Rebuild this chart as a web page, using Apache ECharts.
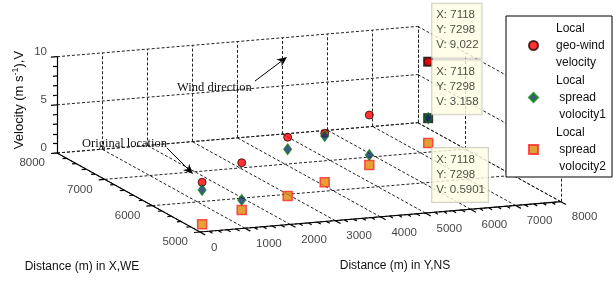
<!DOCTYPE html>
<html>
<head>
<meta charset="utf-8">
<script src="https://cdn.jsdelivr.net/npm/echarts@6/dist/echarts.min.js"></script>
<style>
html, body { margin: 0; padding: 0; background: #fff; }
#chart { width: 614px; height: 282px; }
</style>
</head>
<body>
<div id="chart"></div>
<script>
// track positions (m) and the three velocities (m/s) at each position
const distX = [5060, 5356, 5722, 6102, 6454, 7118];
const distY = [110, 1301, 2707, 3930, 5291, 7298];
const geoWind = [4.96, 5.71, 6.80, 5.69, 6.09, 9.022];
const spread1 = [4.16, 1.84, 5.55, 5.41, 1.94, 3.158];
const spread2 = [0.6, 0.8, 0.7, 0.6, 0.9, 0.5901];
const seriesNames = ['Local\ngeo-wind\nvelocity', 'Local\n spread\n volocity1', 'Local\n spread\n volocity2'];

const xTicks = [5000, 6000, 7000, 8000];
const yTicks = [0, 1000, 2000, 3000, 4000, 5000, 6000, 7000, 8000];
const vTicks = [0, 5, 10];
const tipIndex = 5; // point carrying the data tips

const FONT = 'Liberation Sans';
const SERIF = 'Liberation Serif';

// 3-D view (MATLAB style): screen place of the floor corner X=5000,Y=0 and the step per unit
const view = {
    origin: [200, 232],
    perX: [-47.67 / 1000, -26.33 / 1000],
    perY: [45.1 / 1000, -3.79 / 1000],
    perV: [0, -9.63],
    x0: 5000,
    y0: 0
};
const xMin = 5000, xMax = 8000, yMin = 0, yMax = 8000, vMin = 0, vMax = 10;

function proj(x, y, v) {
    const dx = x - view.x0, dy = y - view.y0;
    return [
        view.origin[0] + dx * view.perX[0] + dy * view.perY[0] + v * view.perV[0],
        view.origin[1] + dx * view.perX[1] + dy * view.perY[1] + v * view.perV[1]
    ];
}
function unit(vec) {
    const l = Math.hypot(vec[0], vec[1]);
    return [vec[0] / l, vec[1] / l];
}
function seg(a, b) {
    return { coords: [a, b] };
}

// dashed grid on floor and the two back walls
const gridSegs = [];
yTicks.forEach(y => {
    gridSegs.push(seg(proj(xMin, y, 0), proj(xMax, y, 0)));
    gridSegs.push(seg(proj(xMax, y, vMin), proj(xMax, y, vMax)));
});
xTicks.forEach(x => {
    gridSegs.push(seg(proj(x, yMin, 0), proj(x, yMax, 0)));
    gridSegs.push(seg(proj(x, yMax, vMin), proj(x, yMax, vMax)));
});
vTicks.forEach(v => {
    gridSegs.push(seg(proj(xMax, yMin, v), proj(xMax, yMax, v)));
    gridSegs.push(seg(proj(xMax, yMax, v), proj(xMin, yMax, v)));
});

// solid axes
const axisSegs = [
    seg(proj(xMin, yMin, 0), proj(xMax, yMin, 0)),
    seg(proj(xMin, yMin, 0), proj(xMin, yMax, 0)),
    seg(proj(xMax, yMin, vMin), proj(xMax, yMin, vMax))
];

// tick marks
const dirY = unit(view.perY), dirX = unit(view.perX);
const tickSegs = [];
function addTick(p, dir, len) {
    tickSegs.push(seg(p, [p[0] + dir[0] * len, p[1] + dir[1] * len]));
}
for (let x = xMin; x <= xMax; x += 200) {
    addTick(proj(x, yMin, 0), [-dirY[0], -dirY[1]], x % 1000 === 0 ? 6 : 4);
}
for (let y = yMin; y <= yMax; y += 200) {
    addTick(proj(xMin, y, 0), [-dirX[0], -dirX[1]], y % 1000 === 0 ? 6 : 4);
}
for (let v = vMin; v <= vMax; v += 1) {
    addTick(proj(xMax, yMin, v), [-dirY[0], -dirY[1]], v % 5 === 0 ? 6 : 4);
}

function pts(vals) {
    return vals.map((v, i) => proj(distX[i], distY[i], v));
}

function labelSeries(data, pos, align) {
    return {
        type: 'scatter',
        symbolSize: 0,
        silent: true,
        z: 3,
        itemStyle: { color: 'rgba(0,0,0,0)' },
        data: data,
        label: {
            show: true,
            position: pos,
            align: align,
            verticalAlign: 'middle',
            formatter: '{b}',
            fontFamily: FONT,
            fontSize: 11.5,
            color: '#111'
        }
    };
}

const tipText = (v) => 'X: ' + distX[tipIndex] + '\nY: ' + distY[tipIndex] + '\nV: ' + v;
const tipLabel = {
    show: true,
    align: 'left',
    fontFamily: FONT,
    fontSize: 11.5,
    lineHeight: 15,
    color: '#1a1a1a',
    backgroundColor: '#ffffe3',
    borderColor: '#c4c4bc',
    borderWidth: 1,
    padding: [4, 3, 5, 4]
};

function arrow(x1, y1, x2, y2) {
    const d = unit([x2 - x1, y2 - y1]);
    const n = [-d[1], d[0]];
    const L = 10, W = 4.5;
    const bx = x2 - d[0] * L, by = y2 - d[1] * L;
    const nx = x2 - d[0] * L * 0.7, ny = y2 - d[1] * L * 0.7;
    return [
        { type: 'line', shape: { x1: x1, y1: y1, x2: nx, y2: ny }, style: { stroke: '#000', lineWidth: 1 } },
        {
            type: 'polygon',
            shape: { points: [[x2, y2], [bx + n[0] * W, by + n[1] * W], [nx, ny], [bx - n[0] * W, by - n[1] * W]] },
            style: { fill: '#000' }
        }
    ];
}

const chart = echarts.init(document.getElementById('chart'));
const option = {
    animation: false,
    grid: { left: 0, right: 0, top: 0, bottom: 0 },
    xAxis: { type: 'value', min: 0, max: 614, show: false },
    yAxis: { type: 'value', min: 0, max: 282, inverse: true, show: false },
    legend: {
        data: [
            { name: seriesNames[0], icon: 'circle' },
            { name: seriesNames[1], icon: 'diamond' },
            { name: seriesNames[2], icon: 'rect' }
        ],
        orient: 'vertical',
        left: 506,
        top: 16,
        itemWidth: 9,
        itemHeight: 9,
        itemGap: 1,
        padding: [4, 6, 2, 22],
        borderColor: '#000',
        borderWidth: 1,
        borderRadius: 0,
        backgroundColor: '#fff',
        selectedMode: false,
        textStyle: {
            fontFamily: FONT, fontSize: 12, lineHeight: 17, color: '#111',
            align: 'left', padding: [0, 0, 0, 13]
        }
    },
    series: [
        {
            type: 'lines', coordinateSystem: 'cartesian2d', silent: true, z: 0,
            lineStyle: { color: '#222', width: 1, type: [3, 2], opacity: 1 },
            data: gridSegs
        },
        {
            type: 'lines', coordinateSystem: 'cartesian2d', silent: true, z: 1,
            lineStyle: { color: '#000', width: 1.2, opacity: 1 },
            data: axisSegs.concat(tickSegs)
        },
        labelSeries(xTicks.map(x => ({ name: String(x), value: proj(x, yMin, 0) })), [-12, 10], 'right'),
        labelSeries(yTicks.map(y => ({ name: String(y), value: proj(xMin, y, 0) })), [11, 15.5], 'left'),
        labelSeries(vTicks.map(v => ({ name: String(v), value: proj(xMax, yMin, v) })), [-10, -5], 'right'),
        {
            // data-tip cursor squares
            type: 'scatter', silent: true, z: 1.5,
            symbol: 'rect', symbolSize: 10,
            itemStyle: { color: '#000' },
            data: [proj(distX[tipIndex], distY[tipIndex], geoWind[tipIndex]),
                   proj(distX[tipIndex], distY[tipIndex], spread1[tipIndex])]
        },
        {
            name: seriesNames[0], type: 'scatter', z: 2,
            symbol: 'circle', symbolSize: 8,
            itemStyle: { color: '#ff0000', borderColor: '#300000', borderWidth: 1 },
            data: pts(geoWind)
        },
        {
            name: seriesNames[1], type: 'scatter', z: 2,
            symbol: 'diamond', symbolSize: [8, 11],
            itemStyle: { color: '#12306a', borderColor: '#0a8a0a', borderWidth: 1 },
            data: pts(spread1)
        },
        {
            name: seriesNames[2], type: 'scatter', z: 2,
            symbol: 'rect', symbolSize: 9,
            itemStyle: { color: '#dc8a06', borderColor: '#ff2828', borderWidth: 1.5 },
            data: pts(spread2)
        },
        {
            // data tips
            type: 'scatter', silent: true, z: 5,
            symbol: 'rect', symbolSize: 8,
            itemStyle: { color: 'rgba(0,0,0,0)' },
            data: [
                { value: proj(distX[tipIndex], distY[tipIndex], geoWind[tipIndex]),
                  label: Object.assign({}, tipLabel, { position: [8, 0], verticalAlign: 'bottom', formatter: tipText(geoWind[tipIndex]) }) },
                { value: proj(distX[tipIndex], distY[tipIndex], spread1[tipIndex]),
                  label: Object.assign({}, tipLabel, { position: [8, 0], verticalAlign: 'bottom', formatter: tipText(spread1[tipIndex]) }) },
                { value: proj(distX[tipIndex], distY[tipIndex], spread2[tipIndex]),
                  label: Object.assign({}, tipLabel, { position: [8, 9], verticalAlign: 'top', formatter: tipText(spread2[tipIndex]) }) }
            ]
        }
    ],
    graphic: [
        {
            type: 'text', x: 19, y: 100, rotation: Math.PI / 2,
            style: {
                text: '{a|Velocity (m s}{s|-1}{a|),V}',
                align: 'center', verticalAlign: 'middle', fill: '#111',
                rich: {
                    a: { fontFamily: FONT, fontSize: 13, lineHeight: 16, fill: '#111' },
                    s: { fontFamily: FONT, fontSize: 9, lineHeight: 16, verticalAlign: 'top', fill: '#111' }
                }
            }
        },
        {
            type: 'text', x: 82, y: 267,
            style: { text: 'Distance (m) in X,WE', align: 'center', verticalAlign: 'middle', fontFamily: FONT, fontSize: 12, fill: '#111' }
        },
        {
            type: 'text', x: 395, y: 266,
            style: { text: 'Distance (m) in Y,NS', align: 'center', verticalAlign: 'middle', fontFamily: FONT, fontSize: 12, fill: '#111' }
        },
        {
            type: 'text', x: 177, y: 88,
            style: { text: 'Wind direction', align: 'left', verticalAlign: 'middle', fontFamily: SERIF, fontSize: 12.5, fill: '#111' }
        },
        {
            type: 'text', x: 82, y: 143.5,
            style: { text: 'Original location', align: 'left', verticalAlign: 'middle', fontFamily: SERIF, fontSize: 12.5, fill: '#111' }
        }
    ].concat(arrow(255, 81, 287, 57)).concat(arrow(167, 148, 193, 174))
};
chart.setOption(option);
</script>
</body>
</html>
